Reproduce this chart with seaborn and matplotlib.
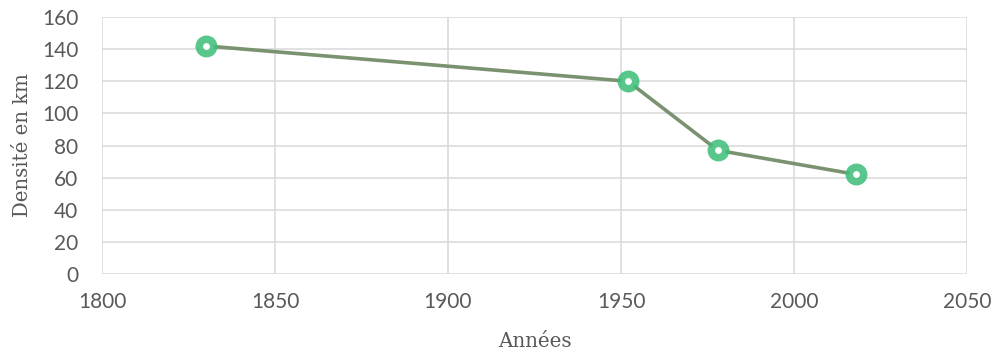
import matplotlib
matplotlib.use("Agg")
import matplotlib.pyplot as plt
import seaborn as sns
import pandas as pd

# Densité du réseau au fil des années
annees = [1830, 1952, 1978, 2018]
densite = [142, 120, 77, 62]

x_ticks = [1800, 1850, 1900, 1950, 2000, 2050]
y_ticks = [0, 20, 40, 60, 80, 100, 120, 140, 160]

sns.set_theme(style="white")
plt.rcParams["font.family"] = ["Lato", "DejaVu Sans"]

df = pd.DataFrame({"Années": annees, "Densité": densite})

fig = plt.figure(figsize=(9.95, 3.56), dpi=100)
ax = fig.add_axes([0.1025, 0.2303, 0.8694, 0.7219])

grid_col = "#d9d9d9"
text_col = "#595959"

sns.lineplot(
    data=df, x="Années", y="Densité", ax=ax,
    color="#7a9270", linewidth=2.6,
    marker="o", markersize=10.4, markeredgewidth=5.4,
    markerfacecolor="white", markeredgecolor=(0.235, 0.745, 0.47, 0.85),
    zorder=3,
)

ax.set_xlim(1800, 2050)
ax.set_ylim(0, 160)
ax.set_xticks(x_ticks)
ax.set_yticks(y_ticks)
ax.grid(True, color=grid_col, linewidth=1.1)
ax.set_axisbelow(True)
for s in ax.spines.values():
    s.set_visible(False)

ax.tick_params(axis="both", length=0, labelsize=15, labelcolor=text_col)
ax.tick_params(axis="y", pad=17)
ax.tick_params(axis="x", pad=13)

ax.set_xlabel("Années", fontsize=14.3, family="DejaVu Serif", color=text_col)
ax.set_ylabel("Densité en km", fontsize=14.2, family="DejaVu Serif", color=text_col)
ax.xaxis.set_label_coords(0.5, -0.225)
ax.yaxis.set_label_coords(-0.081, 0.5)

fig.savefig("out.png", dpi=100)
